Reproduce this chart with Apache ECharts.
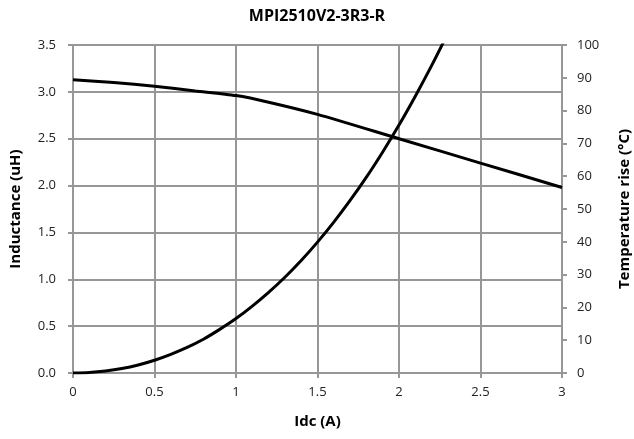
<!DOCTYPE html>
<html><head><meta charset="utf-8">
<script src="https://cdn.jsdelivr.net/npm/echarts@6/dist/echarts.min.js"></script>
<style>html,body{margin:0;padding:0;background:#fff}#c{width:634px;height:439px}</style>
</head><body><div id="c"></div>
<script>
const title = 'MPI2510V2-3R3-R';
const xName = 'Idc (A)';
const leftName = 'Inductance (uH)';
const rightName = 'Temperature rise (°C)';
const currentL = [0, 0.25, 0.5, 0.75, 1.0, 1.2, 1.5, 2.0, 2.5, 3.0];
const inductance = [3.13, 3.10, 3.06, 3.01, 2.96, 2.89, 2.76, 2.50, 2.24, 1.98];
const currentT = [0, 0.1, 0.2, 0.3, 0.4, 0.5, 0.6, 0.7, 0.8, 0.9, 1.0, 1.1, 1.2, 1.3, 1.4, 1.5, 1.6, 1.7, 1.8, 1.9, 2.0, 2.1, 2.2, 2.3];
const tempRise = [0, 0.15, 0.6, 1.35, 2.45, 3.9, 5.7, 7.8, 10.3, 13.3, 16.6, 20.4, 24.6, 29.2, 34.3, 39.9, 46.0, 52.6, 59.7, 67.4, 75.6, 84.4, 93.7, 103.6];

const font = 'Open Sans';
const gridColor = '#979797';
const chart = echarts.init(document.getElementById('c'));
chart.setOption({
  animation: false,
  textStyle: {fontFamily: font},
  title: {text: title, left: 'center', top: 3,
    textStyle: {fontFamily: font, fontSize: 16, fontWeight: 'bold', color: '#000'}},
  grid: {left: 73, right: 72, top: 45, bottom: 66, containLabel: false, outerBoundsMode: 'none'},
  xAxis: {type: 'value', min: 0, max: 3, interval: 0.5,
    name: xName, nameLocation: 'middle', nameGap: 41,
    nameTextStyle: {fontSize: 15, fontWeight: 'bold', color: '#000'},
    axisLine: {show: true, lineStyle: {color: gridColor, width: 2}},
    axisTick: {show: true, length: 5, lineStyle: {color: gridColor, width: 2}},
    axisLabel: {fontSize: 13, color: '#222', margin: 13},
    splitLine: {show: true, lineStyle: {color: gridColor, width: 2}}},
  yAxis: [
    {type: 'value', min: 0, max: 3.5, interval: 0.5, position: 'left',
      name: leftName, nameLocation: 'middle', nameGap: 50, nameRotate: 90,
      nameTextStyle: {fontSize: 15, fontWeight: 'bold', color: '#000'},
      axisLine: {show: true, lineStyle: {color: gridColor, width: 2}},
      axisTick: {show: true, length: 5, lineStyle: {color: gridColor, width: 2}},
      axisLabel: {fontSize: 13, color: '#222', margin: 17, formatter: v => v.toFixed(1)},
      splitLine: {show: true, lineStyle: {color: gridColor, width: 2}}},
    {type: 'value', min: 0, max: 100, interval: 10, position: 'right',
      name: rightName, nameLocation: 'middle', nameGap: 55, nameRotate: 90,
      nameTextStyle: {fontSize: 15, fontWeight: 'bold', color: '#000'},
      axisLine: {show: true, lineStyle: {color: gridColor, width: 2}},
      axisTick: {show: true, length: 5, lineStyle: {color: gridColor, width: 2}},
      axisLabel: {fontSize: 13, color: '#222', margin: 15},
      splitLine: {show: false}}
  ],
  series: [
    {type: 'line', yAxisIndex: 0, data: currentL.map((x, i) => [x, inductance[i]]),
      showSymbol: false, smooth: 0.25, lineStyle: {color: '#000', width: 3}, clip: true},
    {type: 'line', yAxisIndex: 1, data: currentT.map((x, i) => [x, tempRise[i]]),
      showSymbol: false, smooth: 0.3, lineStyle: {color: '#000', width: 3}, clip: true}
  ]
});
</script></body></html>
